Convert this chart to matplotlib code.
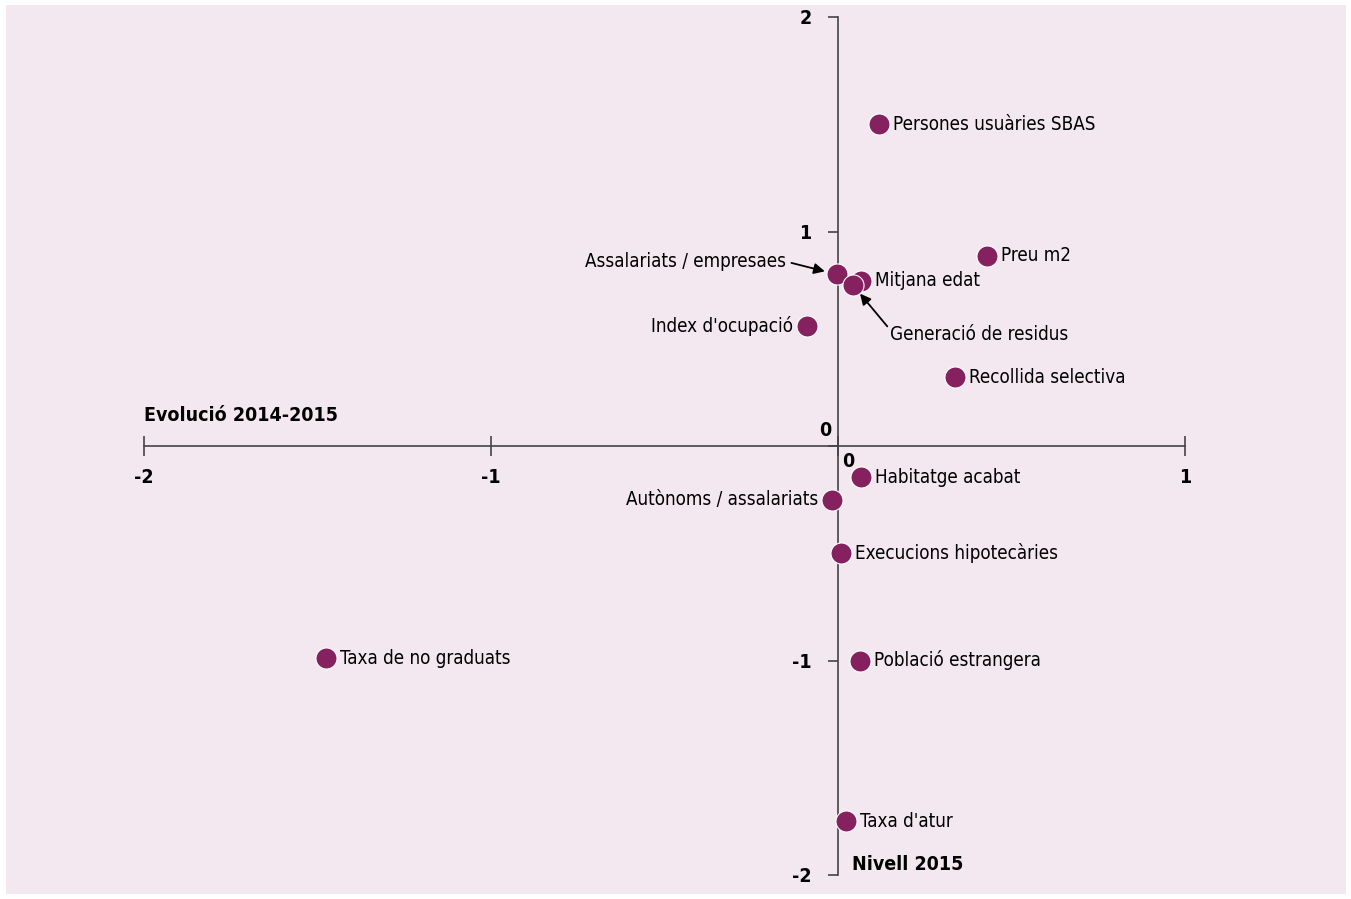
import matplotlib.pyplot as plt
from matplotlib.patches import Rectangle

plt.rcParams['font.family'] = ['DejaVu Sans']
plt.rcParams['font.stretch'] = 'condensed'

# Data: x = Evolució 2014-2015, y = Nivell 2015
labels = ['Persones usuàries SBAS', 'Preu m2', 'Assalariats / empresaes', 'Mitjana edat',
          'Generació de residus', "Index d'ocupació", 'Recollida selectiva', 'Habitatge acabat',
          'Autònoms / assalariats', 'Execucions hipotecàries', 'Taxa de no graduats',
          'Població estrangera', "Taxa d'atur"]
evolucio = [0.118, 0.43, -0.003, 0.066, 0.043, -0.089, 0.337, 0.066, -0.017, 0.009, -1.475, 0.063, 0.023]
nivell = [1.50, 0.886, 0.80, 0.77, 0.75, 0.56, 0.32, -0.145, -0.25, -0.50, -0.99, -1.00, -1.75]

bg = '#f3e8ef'
dot = '#85215f'

fig = plt.figure(figsize=(13.51, 8.99), dpi=100, facecolor='white')
fig.patches.append(Rectangle((6/1351, 5/899), 1 - 11/1351, 1 - 10/899,
                             transform=fig.transFigure, facecolor=bg, edgecolor='none', zorder=-10))
ax = fig.add_axes([144/1351, 1 - 875/899, 1041/1351, 858/899])
ax.set_facecolor('none')
ax.set_xlim(-2, 1)
ax.set_ylim(-2, 2)

ax.scatter(evolucio, nivell, s=230, color=dot, edgecolors='white', linewidths=0.8, zorder=3)

for side in ['top', 'right']:
    ax.spines[side].set_visible(False)
ax.spines['left'].set_position(('data', 0))
ax.spines['bottom'].set_position(('data', 0))
for side in ['left', 'bottom']:
    ax.spines[side].set_color('#444444')
    ax.spines[side].set_linewidth(1.2)

ax.set_xticks([-2, -1, 0, 1])
ax.set_xticklabels(['-2', '-1', '', '1'])
ax.set_yticks([-2, -1, 0, 1, 2])
ax.set_yticklabels(['-2', '-1', '', '1', '2'])
ax.tick_params(axis='x', direction='inout', length=14, width=1.2, color='#444444', pad=9,
               labelsize=14)
ax.tick_params(axis='y', direction='out', length=7, width=1.2, color='#444444', pad=12,
               labelsize=14)
for t in ax.get_xticklabels() + ax.get_yticklabels():
    t.set_fontweight('bold')
ax.text(-0.02, 0.03, '0', ha='right', va='bottom', fontsize=14, fontweight='bold')
ax.text(0.03, -0.03, '0', ha='center', va='top', fontsize=14, fontweight='bold')

ax.text(-2, 0.1, 'Evolució 2014-2015', ha='left', va='bottom', fontsize=14, fontweight='bold')
ax.text(0.04, -1.95, 'Nivell 2015', ha='left', va='center', fontsize=14, fontweight='bold')

fs = 13.5
right = {'Persones usuàries SBAS', 'Preu m2', 'Mitjana edat', 'Recollida selectiva',
         'Habitatge acabat', 'Execucions hipotecàries', 'Taxa de no graduats',
         'Població estrangera', "Taxa d'atur"}
for lab, x, y in zip(labels, evolucio, nivell):
    if lab in right:
        ax.annotate(lab, (x, y), xytext=(10, 0), textcoords='offset points',
                    ha='left', va='center', fontsize=fs)
    elif lab in ("Index d'ocupació", 'Autònoms / assalariats'):
        ax.annotate(lab, (x, y), xytext=(-10, 0), textcoords='offset points',
                    ha='right', va='center', fontsize=fs)

ax.annotate('Assalariats / empresaes', (evolucio[2], nivell[2]), xytext=(-0.15, 0.86),
            ha='right', va='center', fontsize=fs,
            arrowprops=dict(arrowstyle='-|>', color='black', lw=1.3, shrinkA=2, shrinkB=9,
                            mutation_scale=16, relpos=(1, 0.5)))
ax.annotate('Generació de residus', (evolucio[4], nivell[4]), xytext=(0.15, 0.52),
            ha='left', va='center', fontsize=fs,
            arrowprops=dict(arrowstyle='-|>', color='black', lw=1.3, shrinkA=0, shrinkB=8,
                            mutation_scale=16, relpos=(0, 0.75)))

fig.savefig('out.png', dpi=100, facecolor=fig.get_facecolor())
